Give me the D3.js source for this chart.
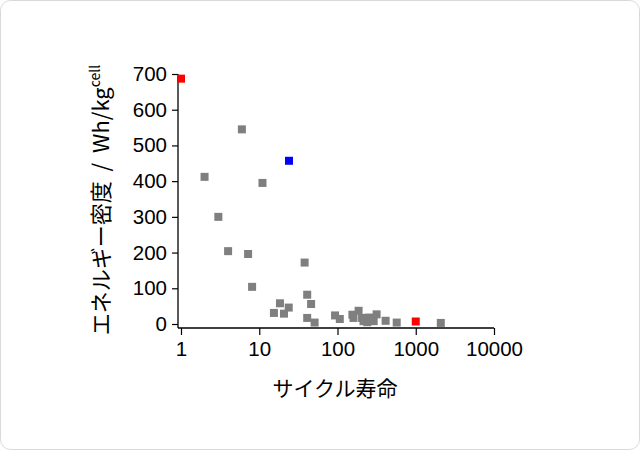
<!DOCTYPE html>
<html>
<head>
<meta charset="utf-8">
<script src="https://cdn.jsdelivr.net/npm/d3@7"></script>
<style>
  body { margin: 0; background: #fff; }
  svg text { fill: #000; }
</style>
</head>
<body>
<div id="chart"></div>
<script>
// data
var cycleLife     = [1, 1000, 24, 2, 6, 11, 3, 4, 7.2, 8.1, 15.4, 18.4, 20.7, 23.8, 38, 41, 46, 41, 51,
                     93, 107, 155, 186, 160, 206, 215, 250, 240, 276, 316, 290, 412, 571, 2090];
var energyDensity = [687, 7, 457, 412, 545, 395, 300, 204, 196, 104, 31, 58, 29, 46, 172, 82, 56, 17, 4,
                     24, 14, 26, 37, 17, 17, 8, 18, 5, 17, 27, 8, 9, 4, 3];
var group         = ["red", "red", "blue"].concat(d3.range(31).map(function() { return "gray"; }));
var xTicks = [1, 10, 100, 1000, 10000];
var yTicks = [0, 100, 200, 300, 400, 500, 600, 700];

var colors = {gray: "#7f7f7f", red: "#ff0000", blue: "#0000ff"};

var width = 640, height = 450;

var svg = d3.select("#chart")
  .append("svg")
  .attr("width", width)
  .attr("height", height);

// rounded frame
svg.append("rect")
  .attr("x", 0.5).attr("y", 0.5)
  .attr("width", width - 1).attr("height", height - 1)
  .attr("rx", 10)
  .style("fill", "#fff")
  .style("stroke", "#d9d9d9");

var x = d3.scaleLog().domain([1, 10000]).range([181, 494]);
var y = d3.scaleLinear().domain([0, 700]).range([324, 74]);
var axisY = 328, axisX = 178;

// minor ticks on x
var minor = [];
for (var k = 0; k < 4; k++) {
  for (var m = 2; m <= 9; m++) minor.push(m * Math.pow(10, k));
}

var gx = svg.append("g").attr("transform", "translate(0," + axisY + ")");
gx.call(d3.axisBottom(x).tickValues(minor).tickSize(4).tickFormat(""));
gx.call(d3.axisBottom(x).tickValues(xTicks).tickSize(7).tickFormat(d3.format("d")).tickPadding(6));
gx.selectAll(".domain").remove();
gx.append("line")
  .attr("x1", axisX).attr("x2", x(10000))
  .style("stroke", "#000").style("stroke-width", 1.3);

var gy = svg.append("g").attr("transform", "translate(" + axisX + ",0)");
gy.call(d3.axisLeft(y).tickValues(yTicks).tickSize(6).tickPadding(5));
gy.selectAll(".domain").remove();
gy.append("line")
  .attr("y1", y(700)).attr("y2", axisY)
  .style("stroke", "#000").style("stroke-width", 1.3);

svg.selectAll(".tick line").style("stroke", "#000").style("stroke-width", 1.2);
svg.selectAll(".tick text")
  .style("font-family", "'Liberation Sans', Arial, sans-serif")
  .style("font-size", "20.5px");

// points
var pts = cycleLife.map(function(c, i) { return {c: c, e: energyDensity[i], g: group[i]}; });
var s = 8;
svg.selectAll(".pt")
  .data(pts.filter(function(d) { return d.g === "gray"; }).concat(pts.filter(function(d) { return d.g !== "gray"; })))
  .enter()
  .append("rect")
  .attr("class", "pt")
  .attr("x", function(d) { return x(d.c) - s / 2; })
  .attr("y", function(d) { return y(d.e) - s / 2; })
  .attr("width", s).attr("height", s)
  .style("fill", function(d) { return colors[d.g]; });

// axis titles
svg.append("text")
  .attr("x", 335).attr("y", 396)
  .style("text-anchor", "middle")
  .style("font-family", "'Noto Sans CJK JP', sans-serif")
  .style("font-size", "21px")
  .text("サイクル寿命");

var yl = svg.append("text")
  .attr("transform", "translate(109,200) rotate(-90)")
  .style("text-anchor", "middle")
  .style("white-space", "pre")
  .style("font-family", "'Noto Sans CJK JP', 'Liberation Sans', sans-serif")
  .style("font-size", "22px");
yl.append("tspan").text("エネルギー密度  /  Wh/kg");
yl.append("tspan")
  .attr("dy", -9)
  .style("font-size", "14px")
  .text("cell");
</script>
</body>
</html>
